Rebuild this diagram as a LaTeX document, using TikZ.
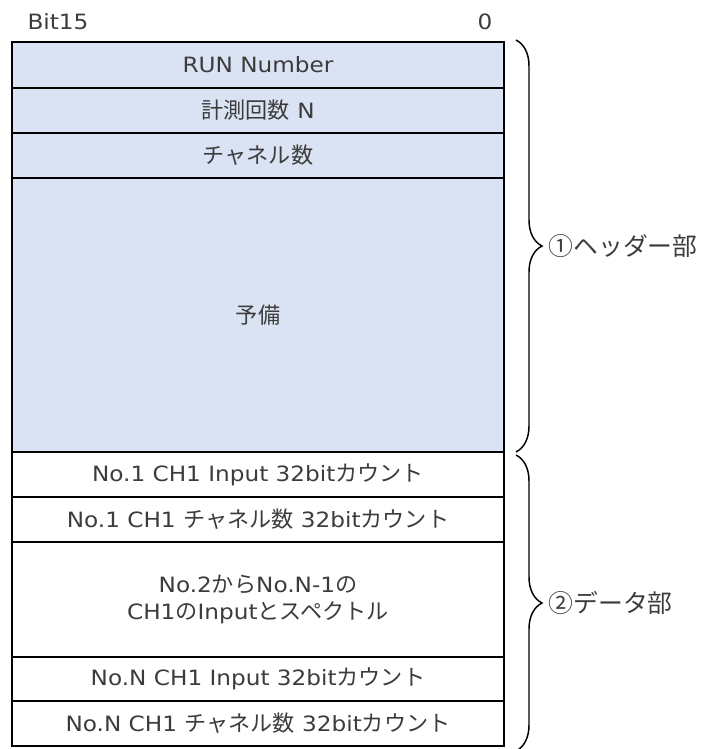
\documentclass[tikz,border=0pt]{standalone}
\usepackage{fontspec}
\setmainfont[FakeStretch=1.1]{DejaVu Sans}
\newfontfamily\jp{Noto Sans CJK JP}
\newcommand{\J}[1]{{\jp\fontsize{16.6}{20}\selectfont #1}}
\usetikzlibrary{decorations.pathreplacing}
\definecolor{hdr}{HTML}{DAE3F3}
\definecolor{txt}{HTML}{3C3C3C}
\begin{document}
\begin{tikzpicture}[x=0.75pt,y=-0.75pt,
  every node/.style={font=\fontsize{15.8}{20}\selectfont, text=txt},
  row/.style={draw=black, line width=1.5pt, minimum width=369pt, inner sep=0pt, align=center},
  hrow/.style={row, fill=hdr},
  drow/.style={row, fill=white},
  brc/.style={decorate, decoration={brace, amplitude=19.5pt}, line width=1.1pt, draw=black},
  lbl/.style={anchor=west, font=\jp\fontsize{18.6}{20}\selectfont}]
\useasboundingbox (0,0) rectangle (713,749);
\node (bit15) at (58,22) {Bit15};
\node (bit0) at (485,22) {0};
\node[hrow, minimum height=34.5pt] (r1) at (258,65) {RUN Number};
\node[hrow, minimum height=33.75pt] (r2) at (258,110.5) {\J{計測回数} N};
\node[hrow, minimum height=33.75pt] (r3) at (258,155.5) {\J{チャネル数}};
\node[hrow, minimum height=205.5pt] (r4) at (258,315) {\J{予備}};
\node[drow, minimum height=33.75pt] (d1) at (258,474.5) {No.1 CH1 Input 32bit\J{カウント}};
\node[drow, minimum height=33.75pt] (d2) at (258,519.5) {No.1 CH1 \J{チャネル数} 32bit\J{カウント}};
\node[drow, minimum height=86.25pt] (d3) at (258,599.5) {No.2\J{から}No.N-1\J{の}\\CH1\J{の}Input\J{とスペクトル}};
\node[drow, minimum height=33pt] (d4) at (258,679) {No.N CH1 Input 32bit\J{カウント}};
\node[drow, minimum height=33.75pt] (d5) at (258,723.5) {No.N CH1 \J{チャネル数} 32bit\J{カウント}};
\coordinate (b1t) at (516,40);
\coordinate (b1b) at (516,452);
\coordinate (b2t) at (516,455);
\coordinate (b2b) at (516,751);
\draw[brc] (b1t) -- (b1b);
\draw[brc] (b2t) -- (b2b);
\node[lbl] (hlab) at (544,246) {①ヘッダー部};
\node[lbl] (dlab) at (544,603) {②データ部};
\end{tikzpicture}
\end{document}
